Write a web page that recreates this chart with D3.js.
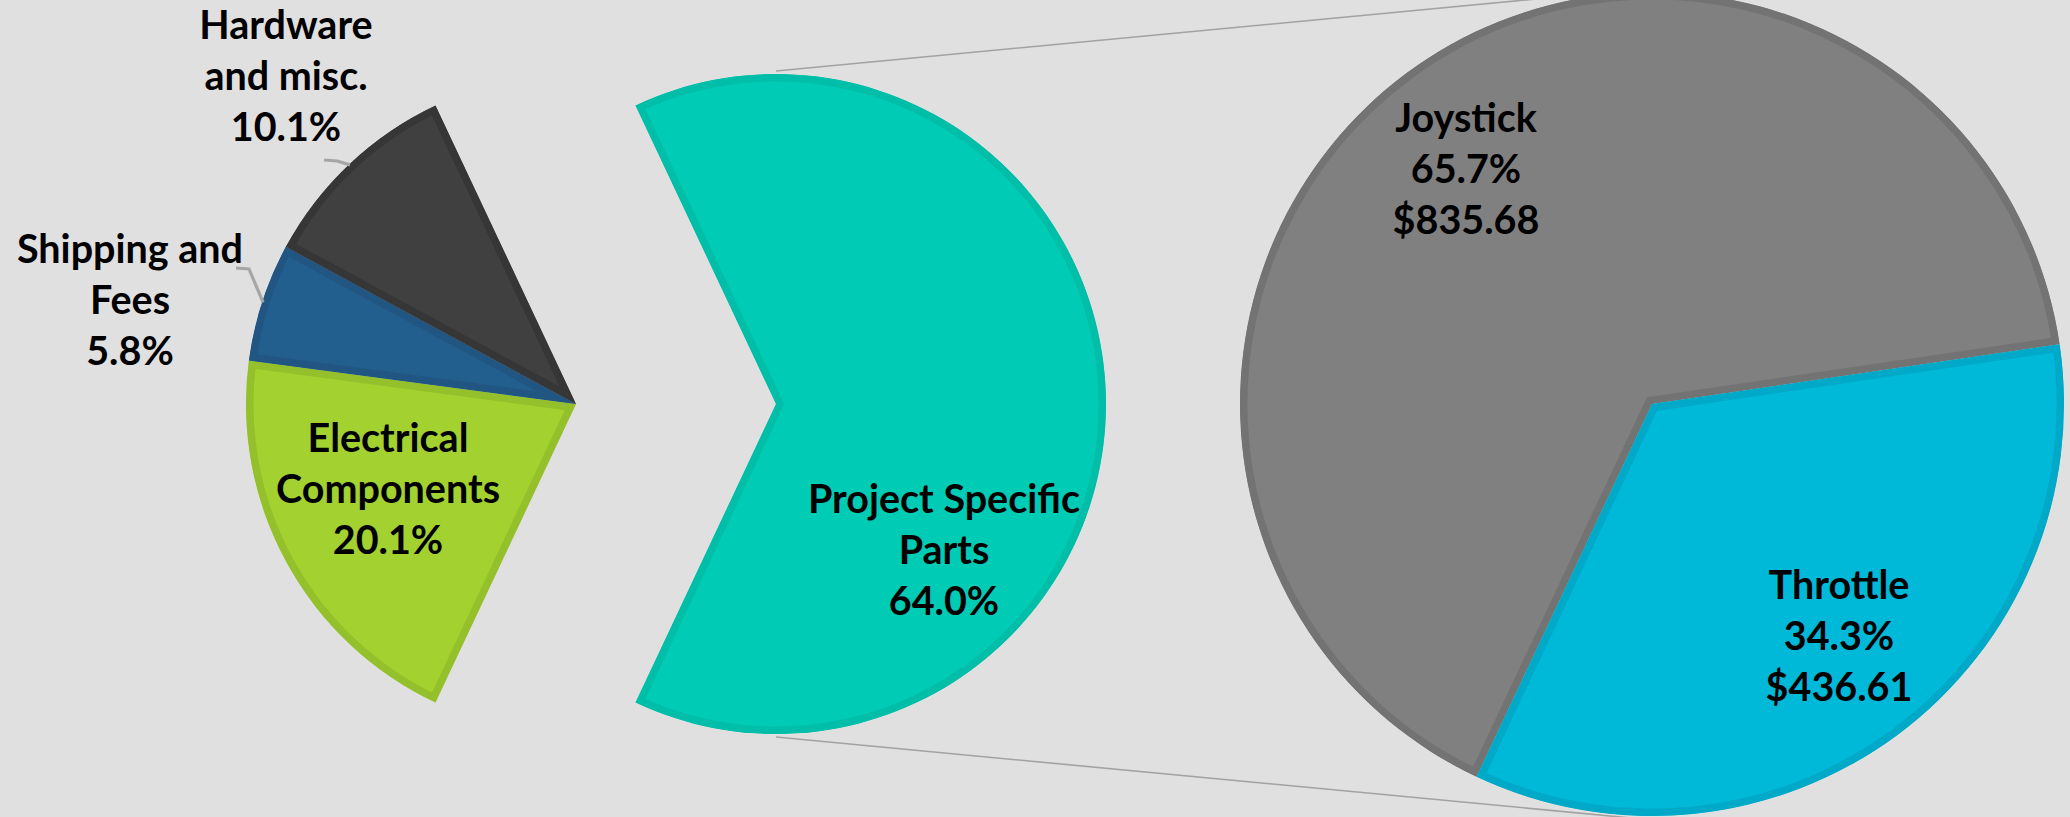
<!DOCTYPE html>
<html>
<head>
<meta charset="utf-8">
<script src="https://cdn.jsdelivr.net/npm/d3@7"></script>
<style>
  html, body { margin: 0; padding: 0; background: #e0e0e0; overflow: hidden; }
  svg { display: block; }
  text { font-family: Lato, "Open Sans", sans-serif; font-weight: 700; font-size: 39.5px; fill: #000; }
</style>
</head>
<body>
<div id="chart"></div>
<script>
// main pie: share of total budget (%)
const mainNames = ["Project Specific Parts", "Electrical Components", "Shipping and Fees", "Hardware and misc."];
const mainLines = [["Project Specific", "Parts"], ["Electrical", "Components"], ["Shipping and", "Fees"], ["Hardware", "and misc."]];
const mainShares = [64.0, 20.1, 5.8, 10.1];
const mainColors = ["#00ccb6", "#a3d12f", "#235f8e", "#404040"];
const mainBorders = ["#00bea8", "#94c02c", "#215683", "#363636"];

// secondary pie: breakdown of project specific parts ($)
const subNames = ["Joystick", "Throttle"];
const subCosts = [835.68, 436.61];
const subColors = ["#808080", "#00b9d9"];
const subBorders = ["#737373", "#00a9c8"];

const width = 2070, height = 817;
const cx = 576, cy = 404, R = 330, explode = 200;
const cx2 = 1652, R2 = 412;
const lineH = 51;

// label anchors (first baseline) for each slice
const mainLabelPos = [[944, 513], [388, 452], [130, 263], [286, 39]];
const subLabelPos = [[1466, 132], [1839, 599]];
const leaderFrom = { 2: [236, 268], 3: [324, 160] };

const svg = d3.select("#chart").append("svg")
    .attr("width", width)
    .attr("height", height);

svg.append("rect").attr("width", width).attr("height", height).attr("fill", "#e0e0e0");

const total = d3.sum(mainShares);
const otherFrac = mainShares[0] / total;
const start = Math.PI / 2 - otherFrac * Math.PI;

const pie = d3.pie().sort(null).value(d => d)
    .startAngle(start).endAngle(start + 2 * Math.PI);
const mainArcs = pie(mainShares);

const subPie = d3.pie().sort(null).value(d => d)
    .startAngle(mainArcs[0].endAngle).endAngle(mainArcs[0].endAngle + 2 * Math.PI);
const subArcs = subPie(subCosts);

const arc = d3.arc().innerRadius(0).outerRadius(R);
const arc2 = d3.arc().innerRadius(0).outerRadius(R2);

// connector lines between exploded slice and secondary pie
const ox = cx + explode;
svg.append("g").selectAll("line")
    .data([-1, 1])
    .join("line")
    .attr("x1", ox).attr("y1", s => cy + s * (R + 3))
    .attr("x2", cx2).attr("y2", s => cy + s * (R2 + 4))
    .attr("stroke", "#a2a2a2")
    .attr("stroke-width", 1.6);

const defs = svg.append("defs");

// slices with an inner border (stroke clipped to the slice itself)
function drawSlices(g, arcs, arcGen, colors, borders, prefix, offset = 0) {
    arcs.forEach((a, j) => {
        const i = j + offset;
        const d = arcGen(a);
        defs.append("clipPath").attr("id", prefix + i).append("path").attr("d", d);
        g.append("path")
            .attr("d", d)
            .attr("fill", colors[i])
            .attr("stroke", borders[i])
            .attr("stroke-width", 15)
            .attr("clip-path", `url(#${prefix}${i})`);
    });
}

const gMain = svg.append("g").attr("transform", `translate(${cx},${cy})`);
const gOther = svg.append("g").attr("transform", `translate(${ox},${cy})`);
drawSlices(gOther, mainArcs.slice(0, 1), arc, mainColors, mainBorders, "m");
drawSlices(gMain, mainArcs.slice(1), arc, mainColors, mainBorders, "m", 1);

const gSub = svg.append("g").attr("transform", `translate(${cx2},${cy})`);
drawSlices(gSub, subArcs, arc2, subColors, subBorders, "s");

// leader lines for outside labels
const edge = d3.arc().innerRadius(R - 1).outerRadius(R - 1);
Object.entries(leaderFrom).forEach(([k, p]) => {
    const a = mainArcs[+k];
    const [ex, ey] = edge.centroid(a);
    svg.append("polyline")
        .attr("points", [[p[0], p[1]], [p[0] + 13, p[1] + 1], [cx + ex, cy + ey]].map(q => q.join(",")).join(" "))
        .attr("fill", "none")
        .attr("stroke", "#a6a6a6")
        .attr("stroke-width", 3.2);
});

const pct = d3.format(".1%");
const money = v => "$" + d3.format(",.2f")(v);

function label(lines, pos) {
    const t = svg.append("text").attr("text-anchor", "middle");
    lines.forEach((s, i) => {
        t.append("tspan").attr("x", pos[0]).attr("y", pos[1] + i * lineH).text(s);
    });
}

mainArcs.forEach((a, i) => {
    label([...mainLines[i], pct(mainShares[i] / total)], mainLabelPos[i]);
});

const subTotal = d3.sum(subCosts);
subArcs.forEach((a, i) => {
    label([subNames[i], pct(subCosts[i] / subTotal), money(subCosts[i])], subLabelPos[i]);
});
</script>
</body>
</html>
